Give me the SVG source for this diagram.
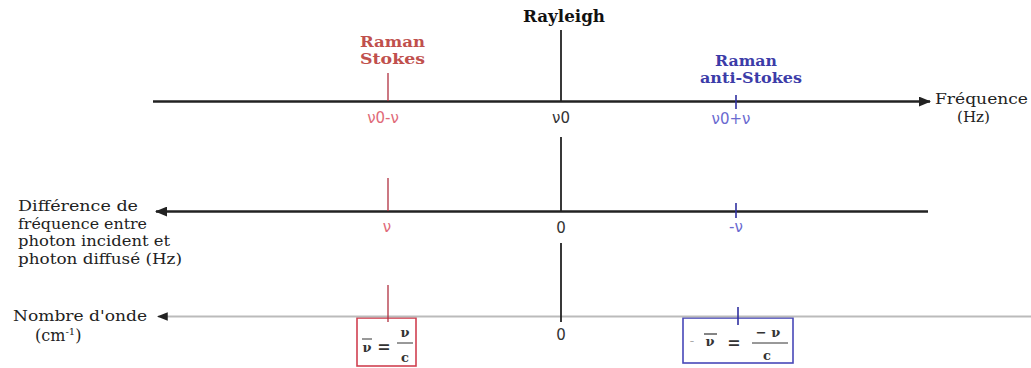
<svg xmlns="http://www.w3.org/2000/svg" width="1031" height="368" viewBox="0 0 1031 368">
<style>
.lbl{font-family:"DejaVu Serif","Liberation Serif",serif;font-size:15px;fill:#222}
.bold{font-family:"DejaVu Serif","Liberation Serif",serif;font-weight:bold;font-size:14px}
.val{font-family:"DejaVu Sans","Liberation Sans",sans-serif;font-size:15px}
.red{fill:#c0504d}
.lred{fill:#e06a78}
.blue{fill:#3c3ca8}
.lblue{fill:#6a6ad0}
.ax{stroke:#222;stroke-width:2.5;fill:none}
.ax3{stroke:#bbb;stroke-width:1.8;fill:none}
.ray{stroke:#222;stroke-width:1.8}
.rt{stroke:#b03040;stroke-width:1.3}
.bt{stroke:#3030a0;stroke-width:1.6}
.fm{font-family:"DejaVu Serif","Liberation Serif",serif;font-weight:bold;font-size:13px;fill:#333}
</style>
<defs>
<marker id="ah" viewBox="0 0 10 8" refX="9" refY="4" markerWidth="5" markerHeight="4" orient="auto" markerUnits="strokeWidth">
<path d="M0,0 L10,4 L0,8 z" fill="#222"/>
</marker>
<marker id="ahs" viewBox="0 0 10 8" refX="9" refY="4" markerWidth="6" markerHeight="5" orient="auto" markerUnits="strokeWidth">
<path d="M0,0 L10,4 L0,8 z" fill="#222"/>
</marker>
</defs>
<rect width="1031" height="368" fill="#fff"/>
<g id="rayleigh">
<text class="bold" x="523" y="22" fill="#111" style="font-size:16px" textLength="82" lengthAdjust="spacingAndGlyphs">Rayleigh</text>
<text class="val" x="561" y="123" text-anchor="middle" fill="#333">ν0</text>
<text class="val" x="561" y="233" text-anchor="middle" fill="#333">0</text>
<text class="val" x="561" y="340" text-anchor="middle" fill="#333">0</text>
</g>
<g id="stokes">
<text class="bold red" x="360" y="47" textLength="65" lengthAdjust="spacingAndGlyphs">Raman</text>
<text class="bold red" x="360" y="64" textLength="65" lengthAdjust="spacingAndGlyphs">Stokes</text>
<text class="val lred" x="383" y="123" text-anchor="middle">ν0-ν</text>
<text class="val lred" x="387" y="232" text-anchor="middle">ν</text>
</g>
<g id="antistokes">
<text class="bold blue" x="715" y="66" textLength="62" lengthAdjust="spacingAndGlyphs">Raman</text>
<text class="bold blue" x="700" y="83" textLength="102" lengthAdjust="spacingAndGlyphs">anti-Stokes</text>
<text class="val lblue" x="731" y="124" text-anchor="middle">ν0+ν</text>
<text class="val lblue" x="736" y="232" text-anchor="middle">-ν</text>
</g>
<g id="axis-freq">
<text class="lbl" x="935" y="104" textLength="93" lengthAdjust="spacingAndGlyphs">Fréquence</text>
<text class="lbl" x="957" y="122" textLength="33" lengthAdjust="spacingAndGlyphs">(Hz)</text>
</g>
<g id="axis-diff">
<text class="lbl" x="18" y="211" textLength="120" lengthAdjust="spacingAndGlyphs">Différence de</text>
<text class="lbl" x="18" y="228.5" textLength="129" lengthAdjust="spacingAndGlyphs">fréquence entre</text>
<text class="lbl" x="18" y="246" textLength="152" lengthAdjust="spacingAndGlyphs">photon incident et</text>
<text class="lbl" x="18" y="263.5" textLength="164" lengthAdjust="spacingAndGlyphs">photon diffusé (Hz)</text>
</g>
<g id="axis-wave">
<text class="lbl" x="13" y="321" textLength="134" lengthAdjust="spacingAndGlyphs">Nombre d'onde</text>
<text class="lbl" x="35" y="341" style="font-size:16px">(cm<tspan style="font-size:10px" dy="-6">-1</tspan><tspan dy="6">)</tspan></text>
</g>
<g id="formula-stokes">
<rect x="357" y="318" width="59" height="48" fill="#fff" stroke="#d04050" stroke-width="1.6"/>
<text class="fm" x="367" y="352" text-anchor="middle">ν</text>
<line x1="362" y1="339" x2="372" y2="339" stroke="#333" stroke-width="1"/>
<text class="fm" x="384" y="352" text-anchor="middle" style="font-size:16px">=</text>
<text class="fm" x="405" y="337" text-anchor="middle">ν</text>
<line x1="397" y1="343" x2="413" y2="343" stroke="#333" stroke-width="1"/>
<text class="fm" x="405" y="362" text-anchor="middle">c</text>
</g>
<g id="formula-antistokes">
<rect x="683" y="318" width="110" height="45" fill="#fff" stroke="#4848b8" stroke-width="1.6"/>
<text class="fm" x="692" y="345" text-anchor="middle" style="fill:#aaa;font-weight:normal">-</text>
<text class="fm" x="710" y="346" text-anchor="middle">ν</text>
<line x1="704" y1="334" x2="717" y2="334" stroke="#333" stroke-width="1.2"/>
<text class="fm" x="734" y="348" text-anchor="middle" style="font-size:16px">=</text>
<text class="fm" x="768" y="337" text-anchor="middle">−  ν</text>
<line x1="752" y1="343" x2="788" y2="343" stroke="#333" stroke-width="1"/>
<text class="fm" x="767" y="360" text-anchor="middle">c</text>
</g>
<g id="connectors">
<line class="ax" x1="153" y1="101.5" x2="930" y2="101.5" marker-end="url(#ah)"/>
<line class="ax" x1="928" y1="211.5" x2="156" y2="211.5" marker-end="url(#ah)"/>
<line class="ax3" x1="1031" y1="316.5" x2="158" y2="316.5" marker-end="url(#ahs)"/>
<line class="ray" x1="561" y1="30" x2="561" y2="101"/>
<line class="ray" x1="561" y1="137" x2="561" y2="211"/>
<line class="ray" x1="561" y1="243" x2="561" y2="322"/>
<line class="rt" x1="388" y1="73" x2="388" y2="101"/>
<line class="rt" x1="388" y1="178" x2="388" y2="211"/>
<line class="rt" x1="388" y1="285" x2="388" y2="322"/>
<line class="bt" x1="736" y1="95" x2="736" y2="109"/>
<line class="bt" x1="736" y1="203" x2="736" y2="218"/>
<line class="bt" x1="738" y1="307" x2="738" y2="325"/>
</g>
</svg>
